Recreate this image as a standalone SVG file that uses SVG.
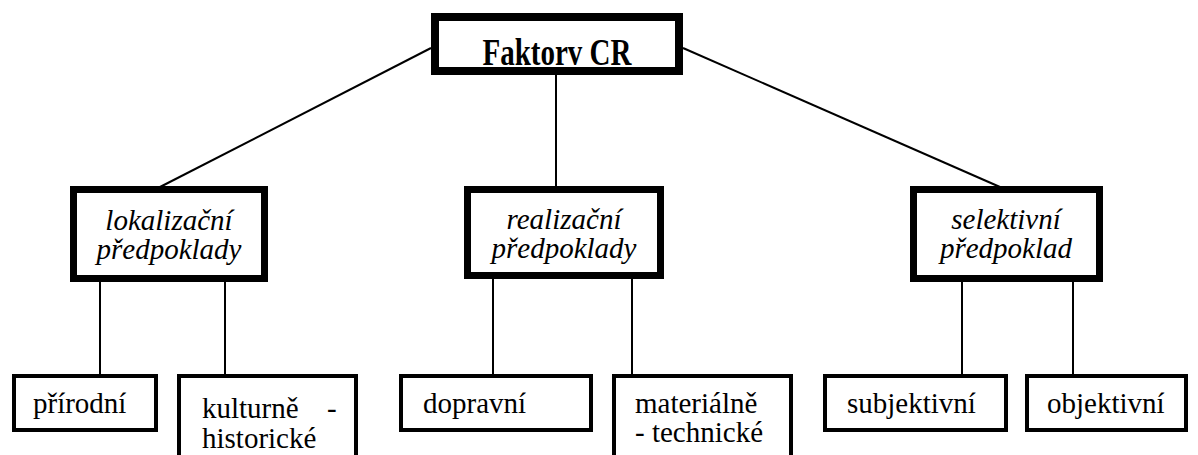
<svg xmlns="http://www.w3.org/2000/svg" width="1198" height="455" viewBox="0 0 1198 455">
<style>
.t{font-family:"Liberation Serif","Times New Roman","DejaVu Serif",serif;font-size:29px;fill:#000}
.b{font-weight:bold}
.i{font-style:italic}
.c{text-anchor:middle}
.top{fill:#fff;stroke:#000;stroke-width:8}
.mid{fill:#fff;stroke:#000;stroke-width:7}
.leaf{fill:#fff;stroke:#000;stroke-width:4}
.ln{stroke:#000;stroke-width:2;fill:none}
</style>
<rect width="1198" height="455" fill="#fff"/>
<g id="connectors">
<line class="ln" x1="431" y1="48" x2="160" y2="187"/>
<line class="ln" x1="683" y1="48" x2="1000" y2="187"/>
<line class="ln" x1="556" y1="75" x2="556" y2="187"/>
<line class="ln" x1="100" y1="282" x2="100" y2="375"/>
<line class="ln" x1="225" y1="282" x2="225" y2="375"/>
<line class="ln" x1="493" y1="278" x2="493" y2="375"/>
<line class="ln" x1="632" y1="278" x2="632" y2="375"/>
<line class="ln" x1="962" y1="282" x2="962" y2="375"/>
<line class="ln" x1="1073" y1="282" x2="1073" y2="375"/>
</g>
<g id="root">
<rect class="top" x="435" y="17" width="244" height="54"/>
<text class="t b c" transform="translate(557,65) scale(1,1.3)">Faktorv CR</text>
</g>
<g id="lokalizacni">
<rect class="mid" x="73.5" y="189.5" width="191" height="89"/>
<text class="t i c" x="169" y="230">lokalizační</text>
<text class="t i c" x="169" y="259">předpoklady</text>
</g>
<g id="realizacni">
<rect class="mid" x="467.5" y="189.5" width="193" height="86"/>
<text class="t i c" x="564" y="229">realizační</text>
<text class="t i c" x="564" y="258">předpoklady</text>
</g>
<g id="selektivni">
<rect class="mid" x="913.5" y="189.5" width="186" height="89"/>
<text class="t i c" x="1006" y="229">selektivní</text>
<text class="t i c" x="1006" y="258">předpoklad</text>
</g>
<g id="prirodni">
<rect class="leaf" x="14" y="376" width="142" height="54"/>
<text class="t" x="33" y="413">přírodní</text>
</g>
<g id="kulturne">
<rect class="leaf" x="179" y="376" width="177" height="100"/>
<text class="t" x="202" y="418">kulturně</text>
<text class="t" x="327" y="418">-</text>
<text class="t" x="202" y="448">historické</text>
</g>
<g id="dopravni">
<rect class="leaf" x="401" y="376" width="190" height="54"/>
<text class="t" x="423" y="413">dopravní</text>
</g>
<g id="materialne">
<rect class="leaf" x="614" y="376" width="177" height="100"/>
<text class="t" x="635" y="413">materiálně</text>
<text class="t" x="635" y="442">- technické</text>
</g>
<g id="subjektivni">
<rect class="leaf" x="825" y="376" width="181" height="54"/>
<text class="t" x="847" y="413">subjektivní</text>
</g>
<g id="objektivni">
<rect class="leaf" x="1027" y="376" width="159" height="54"/>
<text class="t" x="1047" y="413">objektivní</text>
</g>
</svg>
